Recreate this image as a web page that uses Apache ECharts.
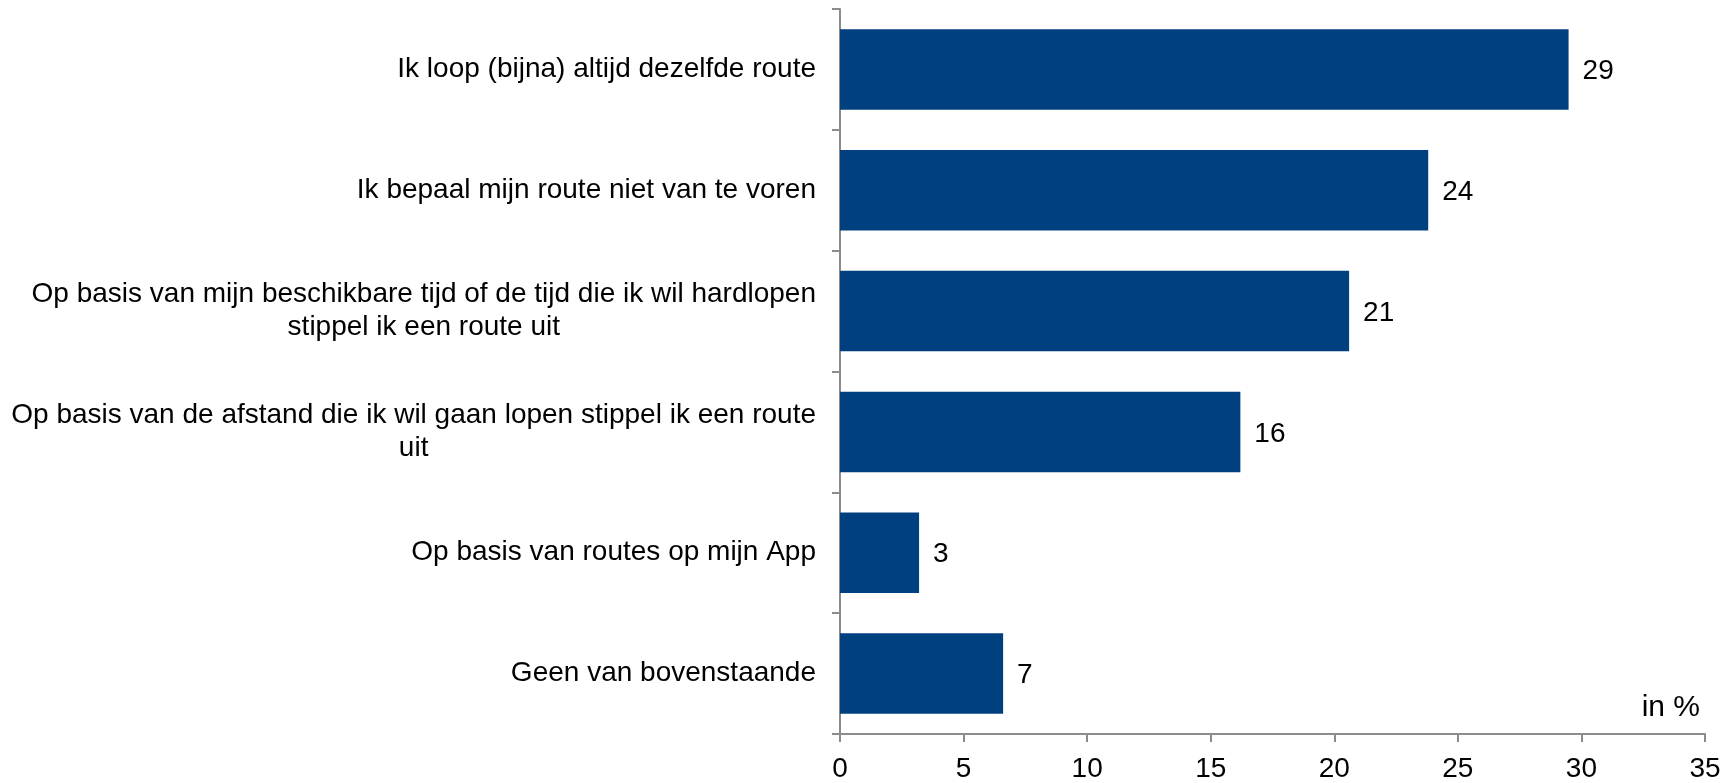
<!DOCTYPE html>
<html>
<head>
<meta charset="utf-8">
<script src="https://cdn.jsdelivr.net/npm/echarts@6/dist/echarts.min.js"></script>
<style>
  html, body { margin: 0; padding: 0; background: #fff; }
  #chart { width: 1736px; height: 783px; }
</style>
</head>
<body>
<div id="chart"></div>
<script>
// Route choice answers, top to bottom
const categories = [
  'Ik loop (bijna) altijd dezelfde route',
  'Ik bepaal mijn route niet van te voren',
  'Op basis van mijn beschikbare tijd of de tijd die ik wil hardlopen\nstippel ik een route uit',
  'Op basis van de afstand die ik wil gaan lopen stippel ik een route\nuit',
  'Op basis van routes op mijn App',
  'Geen van bovenstaande'
];
// Share of respondents (in %)
const values = [29.48, 23.8, 20.6, 16.2, 3.2, 6.6];
const unitLabel = 'in %';

const FONT = '"Liberation Sans", Arial, sans-serif';
const FONT_SIZE = 28;
const AXIS_COLOR = '#8c8c8c';
const BAR_COLOR = '#00407f';

const chart = echarts.init(document.getElementById('chart'));
chart.setOption({
  animation: false,
  backgroundColor: '#ffffff',
  textStyle: { fontFamily: FONT },
  title: {
    text: unitLabel,
    right: 31,
    top: 688,
    textStyle: { fontFamily: FONT, fontSize: 30, fontWeight: 'normal', color: '#000' }
  },
  grid: { left: 840, right: 31, top: 9, bottom: 48, containLabel: false },
  xAxis: {
    type: 'value',
    min: 0,
    max: 35,
    interval: 5,
    axisLine: { show: true, lineStyle: { color: AXIS_COLOR, width: 2 } },
    axisTick: { show: true, length: 8, lineStyle: { color: AXIS_COLOR, width: 2 } },
    splitLine: { show: false },
    axisLabel: { fontFamily: FONT, fontSize: FONT_SIZE, color: '#000', margin: 21 }
  },
  yAxis: {
    type: 'category',
    data: categories,
    inverse: true,
    axisLine: { show: true, lineStyle: { color: AXIS_COLOR, width: 2 } },
    axisTick: { show: true, length: 8, alignWithLabel: false, lineStyle: { color: AXIS_COLOR, width: 2 } },
    axisLabel: {
      margin: 24,
      align: 'right',
      color: '#000',
      fontFamily: FONT,
      fontSize: FONT_SIZE,
      lineHeight: 33,
      // each wrapped line is centred within its right-aligned block
      formatter: function (v) {
        return v.split('\n').map(function (line) { return '{c|' + line + '}'; }).join('\n');
      },
      rich: {
        c: { align: 'center', fontFamily: FONT, fontSize: FONT_SIZE, lineHeight: 33, color: '#000' }
      }
    }
  },
  series: [{
    type: 'bar',
    data: values,
    barCategoryGap: '33.4%',
    itemStyle: { color: BAR_COLOR },
    label: {
      show: true,
      position: 'right',
      distance: 14,
      offset: [0, 2],
      fontFamily: FONT,
      fontSize: FONT_SIZE,
      color: '#000',
      formatter: function (p) { return Math.round(p.value); }
    }
  }]
});
</script>
</body>
</html>
